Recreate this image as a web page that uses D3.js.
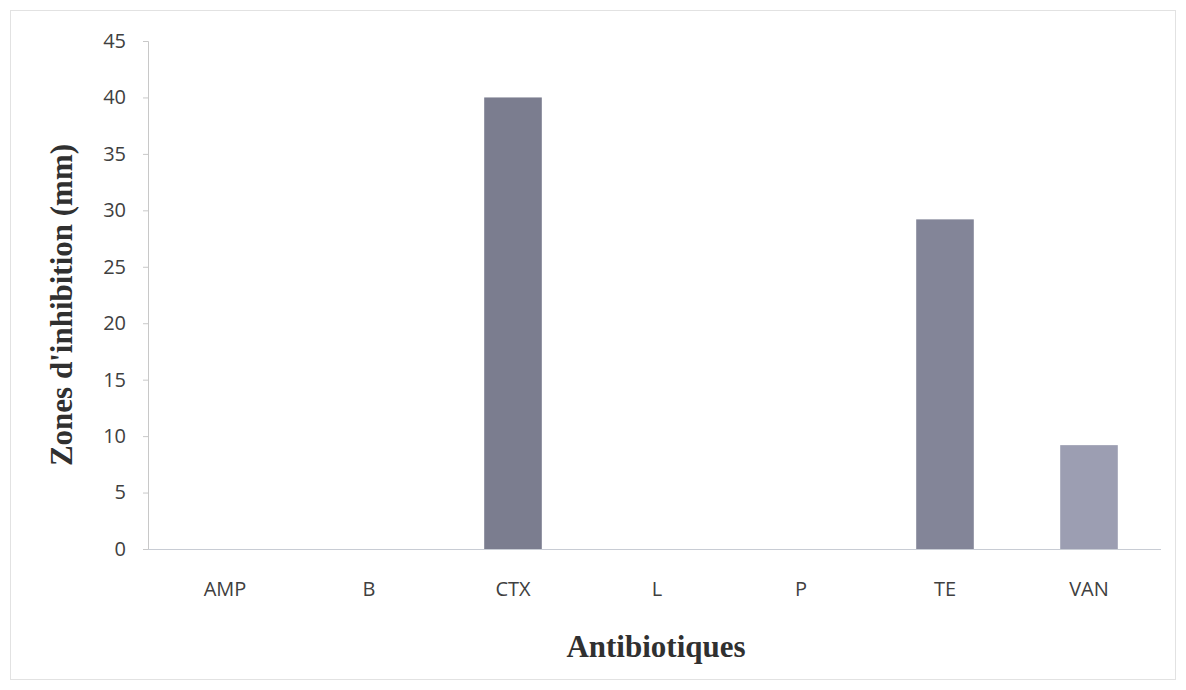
<!DOCTYPE html>
<html>
<head>
<meta charset="utf-8">
<script src="https://cdn.jsdelivr.net/npm/d3@7"></script>
<style>
  body { margin: 0; background: #fff; }
</style>
</head>
<body>
<div id="chart"></div>
<script>
// data
var categories = ["AMP", "B", "CTX", "L", "P", "TE", "VAN"];
var values = [0, 0, 40, 0, 0, 29.2, 9.2];
var barColors = ["#7f8192", "#7f8192", "#7b7d8f", "#7f8192", "#7f8192", "#838598", "#9c9eb2"];
var yTicks = [0, 5, 10, 15, 20, 25, 30, 35, 40, 45];

var width = 1186, height = 690;
var margin = { left: 148, right: 25, top: 41, bottom: 141 };

var svg = d3.select("#chart")
  .append("svg")
    .attr("width", width)
    .attr("height", height);

// faint frame around the chart
svg.append("rect")
  .attr("x", 10.5).attr("y", 10.5)
  .attr("width", width - 21).attr("height", height - 21)
  .attr("fill", "none")
  .attr("stroke", "#e2e2e2")
  .attr("stroke-width", 1);

var x = d3.scaleBand()
  .domain(categories)
  .range([margin.left + 5, width - margin.right])
  .paddingInner(0.6)
  .paddingOuter(0.3);

var y = d3.scaleLinear()
  .domain([0, 45])
  .range([height - margin.bottom, margin.top]);

// bars
svg.append("g")
  .selectAll("rect")
  .data(values)
  .enter()
  .append("rect")
    .attr("x", function(d, i) { return x(categories[i]); })
    .attr("y", function(d) { return y(d); })
    .attr("width", x.bandwidth())
    .attr("height", function(d) { return y(0) - y(d); })
    .style("fill", function(d, i) { return barColors[i]; });

// y axis
var yAxis = svg.append("g")
  .attr("transform", "translate(" + margin.left + ",0)")
  .call(d3.axisLeft(y).tickValues(yTicks).tickSize(5).tickPadding(17));
yAxis.select(".domain").attr("stroke", "#c8c8c8");
yAxis.selectAll(".tick line").attr("stroke", "#c8c8c8");
yAxis.selectAll(".tick text")
  .style("font-family", "'Open Sans', sans-serif")
  .style("font-size", "20px")
  .style("fill", "#404040");

// x axis
var xAxis = svg.append("g")
  .attr("transform", "translate(0," + y(0) + ")")
  .call(d3.axisBottom(x).tickSize(0).tickPadding(33));
xAxis.select(".domain")
  .attr("stroke", "#c8ccd4")
  .attr("d", "M" + margin.left + ",0.5H" + (width - margin.right));
xAxis.selectAll(".tick text")
  .style("font-family", "'Open Sans', sans-serif")
  .style("font-size", "20px")
  .style("fill", "#404040");

// axis titles
svg.append("text")
  .attr("transform", "translate(72," + ((y(0) + y(45)) / 2 + 10) + ") rotate(-90)")
  .attr("text-anchor", "middle")
  .style("font-family", "'Liberation Serif', 'Times New Roman', serif")
  .style("font-weight", "bold")
  .style("font-size", "31px")
  .style("fill", "#303030")
  .text("Zones d'inhibition (mm)");

svg.append("text")
  .attr("x", 656)
  .attr("y", 657)
  .attr("text-anchor", "middle")
  .style("font-family", "'Liberation Serif', 'Times New Roman', serif")
  .style("font-weight", "bold")
  .style("font-size", "31px")
  .style("fill", "#303030")
  .text("Antibiotiques");
</script>
</body>
</html>
